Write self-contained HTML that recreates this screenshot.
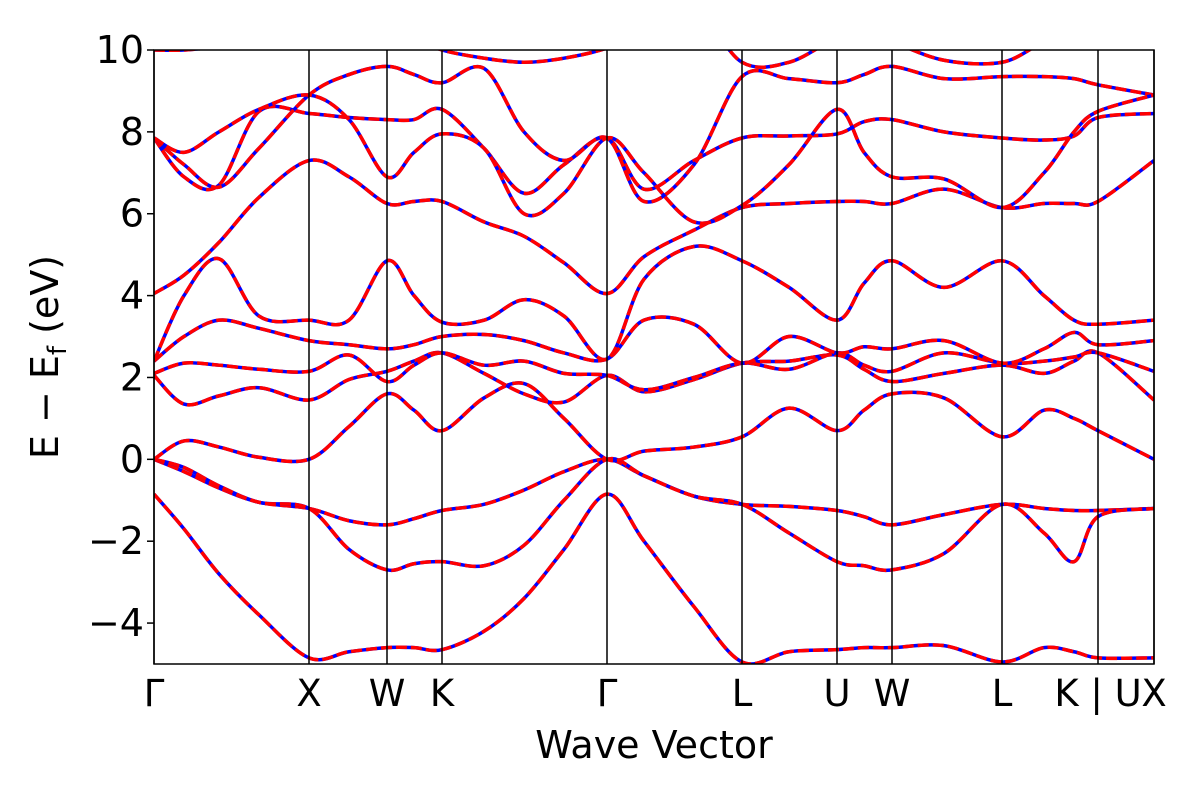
<!DOCTYPE html>
<html><head><meta charset="utf-8"><style>
body{margin:0;background:#fff;}
svg text{font-family:"DejaVu Sans","Liberation Sans",sans-serif;fill:#000;}
</style></head><body>
<svg id="chart" width="1200" height="800" viewBox="0 0 1200 800" xmlns="http://www.w3.org/2000/svg">
<defs><clipPath id="clip"><rect x="154" y="50" width="1000" height="614"/></clipPath></defs>
<rect x="154" y="50" width="1000" height="614" fill="#fff"/>
<g id="bands" clip-path="url(#clip)"></g>
<g id="vlines"></g>
<rect x="154" y="50" width="1000" height="614" fill="none" stroke="#000" stroke-width="1.5"/>
<g id="yticks"></g>
<g id="xticks"></g>
<text x="654" y="758" font-size="38" text-anchor="middle">Wave Vector</text>
<text transform="translate(58,357) rotate(-90)" font-size="38" text-anchor="middle">E − E<tspan font-size="26" dy="8">f</tspan><tspan dy="-8"> (eV)</tspan></text>
</svg>
<script>
const kGrid=[0,0.3,0.65,1.05,1.55,1.95,2.33,2.6,2.88,3.3,3.7,4.1,4.53,4.9,5.4,5.88,6.35,6.83,7.1,7.38,7.9,8.48,8.9,9.2,9.44,10];
const symK=[0,1.55,2.33,2.88,4.53,5.88,6.83,7.38,8.48,9.44,10];
const symLabels=["Γ","X","W","K","Γ","L","U","W","L","K | U","X"];
const yTicks=[-4,-2,0,2,4,6,8,10];
const band1=[-0.85,-1.7,-2.8,-3.8,-4.85,-4.7,-4.6,-4.6,-4.65,-4.2,-3.4,-2.2,-0.85,-2.0,-3.6,-4.95,-4.7,-4.65,-4.6,-4.6,-4.55,-4.95,-4.6,-4.7,-4.85,-4.85];
const band2=[0,-0.3,-0.7,-1.05,-1.2,-1.5,-1.6,-1.45,-1.25,-1.1,-0.75,-0.3,0,-0.4,-0.9,-1.1,-1.15,-1.25,-1.4,-1.6,-1.35,-1.1,-1.2,-1.25,-1.25,-1.2];
const band3=[0,-0.2,-0.65,-1.05,-1.2,-2.2,-2.7,-2.55,-2.5,-2.6,-2.1,-1.0,0,-0.4,-0.9,-1.1,-1.8,-2.5,-2.6,-2.7,-2.3,-1.1,-1.8,-2.5,-1.4,-1.2];
const band4=[0,0.45,0.3,0.05,0,0.8,1.6,1.2,0.7,1.5,1.85,1.0,0,0.2,0.3,0.55,1.25,0.7,1.2,1.6,1.5,0.55,1.2,1.0,0.7,0];
const band5=[2.05,1.35,1.55,1.75,1.45,1.95,2.15,2.4,2.6,2.1,1.6,1.4,2.05,1.65,1.95,2.35,2.4,2.55,2.2,1.9,2.1,2.3,2.1,2.4,2.6,1.45];
const band6=[2.1,2.35,2.3,2.2,2.15,2.55,1.9,2.3,2.6,2.3,2.4,2.1,2.05,1.7,2.0,2.35,2.2,2.6,2.3,2.15,2.6,2.35,2.4,2.5,2.6,2.15];
const band7=[2.4,3.0,3.4,3.2,2.9,2.8,2.7,2.8,3.0,3.05,2.9,2.6,2.45,3.4,3.3,2.35,3.0,2.6,2.75,2.7,2.9,2.35,2.7,3.1,2.8,2.9];
const band8=[2.4,4.0,4.9,3.5,3.4,3.4,4.85,4.0,3.35,3.4,3.9,3.5,2.45,4.4,5.2,4.85,4.2,3.4,4.3,4.85,4.2,4.85,4.0,3.4,3.3,3.4];
const band9=[4.05,4.5,5.3,6.4,7.3,6.9,6.25,6.3,6.3,5.8,5.45,4.8,4.05,4.95,5.6,6.15,6.25,6.3,6.3,6.25,6.6,6.15,6.25,6.25,6.3,7.3];
const band10=[7.85,6.9,6.7,8.5,8.45,8.35,8.3,8.3,8.55,7.6,6.5,7.2,7.85,6.6,7.3,7.85,7.9,7.95,8.25,8.3,8.0,7.85,7.8,7.9,8.35,8.45];
const band11=[7.85,7.2,6.65,7.6,8.9,9.4,9.6,9.4,9.2,9.55,8.0,7.3,7.85,6.3,7.2,9.35,9.3,9.2,9.4,9.6,9.3,9.35,9.35,9.3,9.15,8.9];
const band12=[7.85,7.5,8.0,8.55,8.9,8.3,6.9,7.5,7.95,7.6,6.0,6.5,7.85,7.0,5.8,6.2,7.2,8.55,7.5,6.9,6.85,6.15,7.0,8.0,8.5,8.9];
const band13=[10.0,10.0,10.1,10.4,10.6,10.5,10.4,10.3,10.0,9.8,9.7,9.8,10.05,10.5,11.0,9.7,9.7,10.3,10.4,10.2,9.75,9.7,10.2,10.4,10.3,10.3];
const bands=[band1,band2,band3,band4,band5,band6,band7,band8,band9,band10,band11,band12,band13];
const X0=154,X1=1154,Y0=664,Y1=50,EMIN=-5,EMAX=10;
const xs=k=>X0+(k-0)/(10-0)*(X1-X0);
const ys=e=>Y0-(e-EMIN)/(EMAX-EMIN)*(Y0-Y1);
const NS="http://www.w3.org/2000/svg";
function pathFor(arr){
  const p=kGrid.map((k,i)=>[xs(k),ys(arr[i])]);
  let d="M"+p[0][0]+","+p[0][1];
  for(let i=0;i<p.length-1;i++){
    const p0=p[Math.max(i-1,0)],p1=p[i],p2=p[i+1],p3=p[Math.min(i+2,p.length-1)];
    const c1=[p1[0]+(p2[0]-p0[0])/6,p1[1]+(p2[1]-p0[1])/6];
    const c2=[p2[0]-(p3[0]-p1[0])/6,p2[1]-(p3[1]-p1[1])/6];
    d+=" C"+c1[0]+","+c1[1]+" "+c2[0]+","+c2[1]+" "+p2[0]+","+p2[1];
  }
  return d;
}
const gb=document.getElementById('bands');
bands.forEach((b,i)=>{
  const d=pathFor(b);
  const a=document.createElementNS(NS,'path');
  a.setAttribute('d',d);a.setAttribute('fill','none');a.setAttribute('stroke','#0000ff');a.setAttribute('stroke-width','3.5');
  
  
  gb.appendChild(a);
  const r=document.createElementNS(NS,'path');
  r.setAttribute('d',d);r.setAttribute('fill','none');r.setAttribute('stroke','#ff0000');r.setAttribute('stroke-width','3.5');r.setAttribute('stroke-dasharray','11,4');
  
  
  gb.appendChild(r);
});
const gv=document.getElementById('vlines'),gx=document.getElementById('xticks');
symK.forEach((k,i)=>{
  const l=document.createElementNS(NS,'line');
  l.setAttribute('x1',xs(k));l.setAttribute('x2',xs(k));l.setAttribute('y1',Y1);l.setAttribute('y2',Y0);l.setAttribute('stroke','#000');l.setAttribute('stroke-width','1.5');
  
  
  gv.appendChild(l);
  const t=document.createElementNS(NS,'text');
  t.setAttribute('x',xs(k));t.setAttribute('y',706);t.setAttribute('font-size','37');t.setAttribute('text-anchor','middle');
  t.textContent=symLabels[i];
  
  
  gx.appendChild(t);
});
const gy=document.getElementById('yticks');
yTicks.forEach(v=>{
  const l=document.createElementNS(NS,'line');
  l.setAttribute('x1',X0-7);l.setAttribute('x2',X0);l.setAttribute('y1',ys(v));l.setAttribute('y2',ys(v));l.setAttribute('stroke','#000');l.setAttribute('stroke-width','1.5');
  
  
  gy.appendChild(l);
  const t=document.createElementNS(NS,'text');
  t.setAttribute('x',X0-10);t.setAttribute('y',ys(v)+13);t.setAttribute('font-size','38');t.setAttribute('text-anchor','end');
  t.textContent=v<0?'−'+Math.abs(v):String(v);
  
  
  gy.appendChild(t);
});
</script>
</body></html>
